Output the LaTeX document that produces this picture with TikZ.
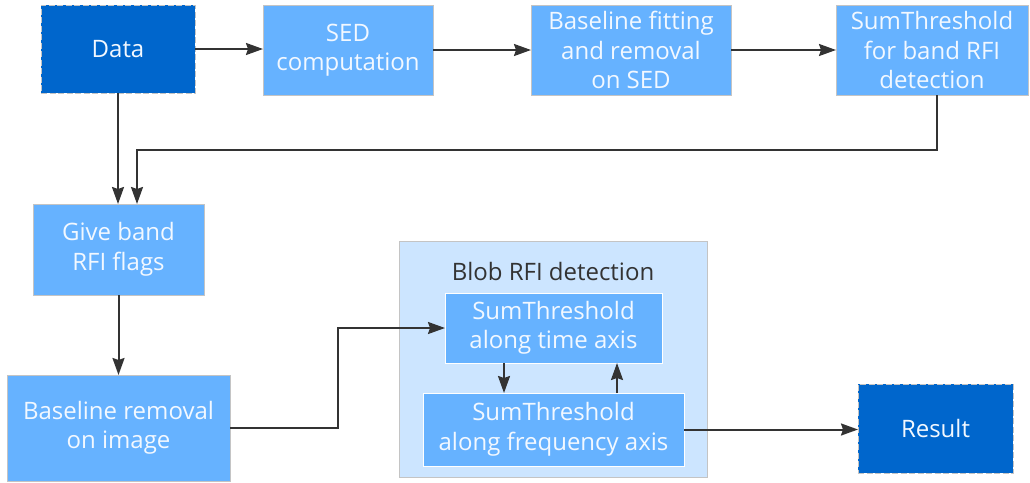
\documentclass[tikz,border=0pt]{standalone}
\usepackage{fontspec}
\setmainfont{Open Sans}
\usetikzlibrary{arrows.meta,calc}
\definecolor{darkb}{HTML}{0066CC}
\definecolor{lightb}{HTML}{66B2FF}
\definecolor{contb}{HTML}{CCE5FF}
\definecolor{bord}{HTML}{C4C4C4}
\definecolor{arrc}{HTML}{333333}
\definecolor{txtw}{HTML}{F2F8FF}
\begin{document}
\begin{tikzpicture}[x=1pt,y=-1pt,
  base/.style={rectangle, outer sep=0pt, inner sep=1pt, align=center,
    font=\fontsize{24}{29.5}\selectfont, text=txtw},
  lbox/.style={base, fill=lightb, draw=bord, line width=1pt},
  dbox/.style={base, fill=darkb, draw=bord, line width=1pt, dash pattern=on 6pt off 2.5pt},
  cont/.style={rectangle, fill=contb, draw=bord, line width=1pt, outer sep=0pt},
  arr/.style={draw=arrc, line width=2pt, -{Stealth[length=17pt,width=12pt,inset=2pt]}}]
\useasboundingbox (0,0) rectangle (1030,482);
% nodes
\node[dbox, minimum width=154pt, minimum height=88pt] (data) at (118,49) {Data};
\node[lbox, minimum width=170pt, minimum height=90pt] (sed) at (348,50) {SED\\computation};
\node[lbox, minimum width=200pt, minimum height=90pt] (fit) at (631,50) {Baseline fitting\\and removal\\on SED};
\node[lbox, minimum width=192pt, minimum height=90pt] (sum) at (932,50) {SumThreshold\\for band RFI\\detection};
\node[lbox, minimum width=171pt, minimum height=91pt] (give) at (118.5,249.5) {Give band\\RFI flags};
\node[lbox, minimum width=223pt, minimum height=106pt] (rem) at (118.5,428) {Baseline removal\\on image};
\node[cont, minimum width=308pt, minimum height=236pt] (blob) at (553,359.5) {};
\node[base, text=arrc] (title) at (553,271) {Blob RFI detection};
\node[lbox, draw=white, minimum width=217pt, minimum height=70pt] (time) at (553.5,328) {SumThreshold\\along time axis};
\node[lbox, draw=white, minimum width=261pt, minimum height=73pt] (freq) at (553.5,429.5) {SumThreshold\\along frequency axis};
\node[dbox, minimum width=155pt, minimum height=89pt] (res) at (935.5,428.5) {Result};
% connectors
\draw[arr] (data.east) -- (data.east -| sed.west);
\draw[arr] (sed.east) -- (sed.east -| fit.west);
\draw[arr] (fit.east) -- (fit.east -| sum.west);
\draw[arr] (data.south) -- (data.south |- give.north);
\coordinate (j) at (137,150);
\draw[arr] ([xshift=5pt]sum.south) |- (j) -- (j |- give.north);
\draw[arr] (give.south) -- (give.south |- rem.north);
\coordinate (k) at (338,428);
\draw[arr] (rem.east) -- (k) |- (time.west);
\draw[arr] ([xshift=-49.5pt]time.south) -- ([xshift=-49.5pt]time.south |- freq.north);
\draw[arr] ([xshift=63.5pt]time.south |- freq.north) -- ([xshift=63.5pt]time.south);
\draw[arr] (freq.east) -- (freq.east -| res.west);
\end{tikzpicture}
\end{document}
